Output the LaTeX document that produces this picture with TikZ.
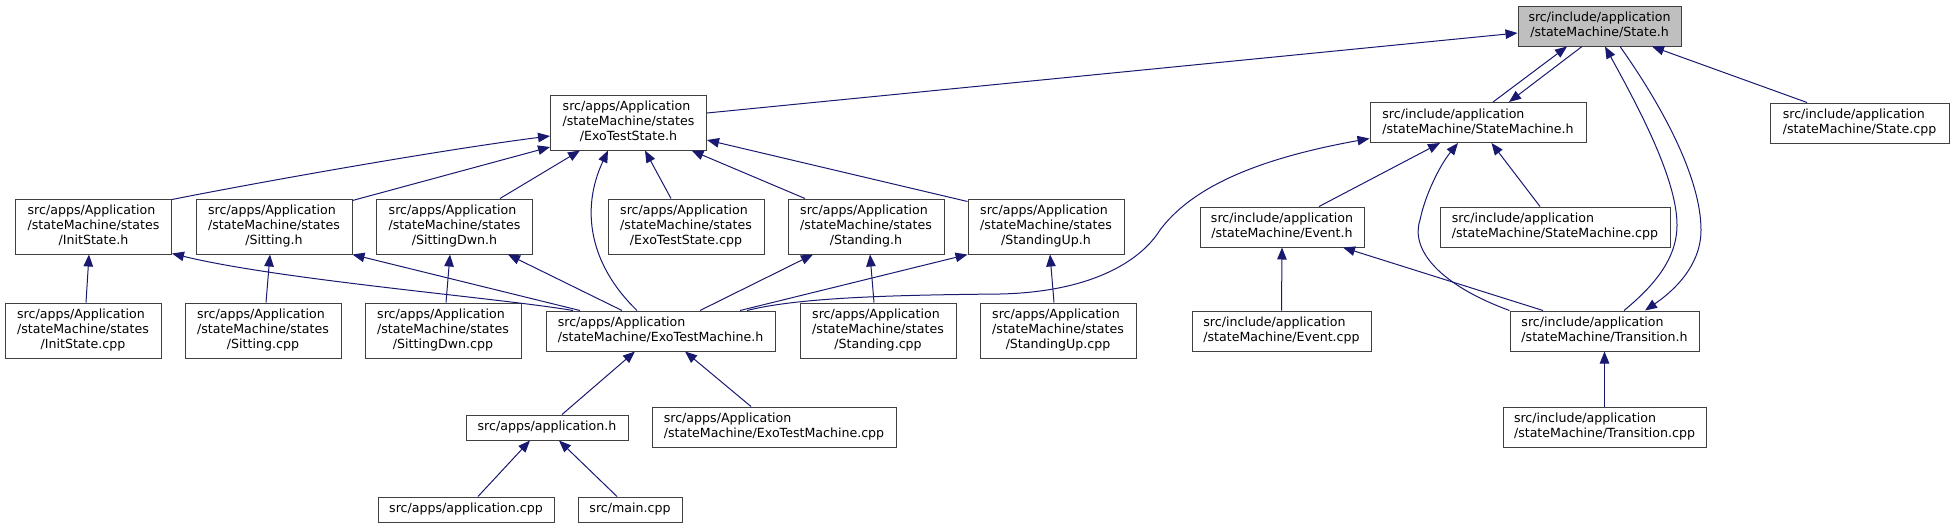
\documentclass[tikz,border=0pt]{standalone}
\usepackage{fontspec}
\usetikzlibrary{arrows.meta,calc}
\newfontfamily\doxfont{DejaVu Sans}
\definecolor{edgeblue}{HTML}{191970}
\definecolor{boxline}{HTML}{404040}
\definecolor{rootfill}{HTML}{BFBFBF}
\newcommand{\twolines}[2]{\begin{tabular}{@{}l@{}}#1\\\multicolumn{1}{@{}c@{}}{#2}\end{tabular}}
\newcommand{\threelines}[3]{\begin{tabular}{@{}l@{}}#1\\#2\\\multicolumn{1}{@{}c@{}}{#3}\end{tabular}}

\begin{document}
\begin{tikzpicture}[x=1pt, y=-1pt,
  font=\doxfont\fontsize{12.6}{15}\selectfont,
  file/.style={draw=boxline, fill=white, line width=1pt, inner xsep=0pt, inner ysep=0pt},
  oneline/.style={file, minimum height=25pt},
  twoline/.style={file, minimum height=40pt},
  threeline/.style={file, minimum height=55pt, minimum width=156pt},
  root/.style={twoline, fill=rootfill},
  dep/.style={draw=edgeblue, line width=1pt, -{Triangle[length=12pt, width=9.5pt]}}
]
\useasboundingbox (0,0) rectangle (1954,528);
\node[root, minimum width=163pt] (stateh) at (1599.5,26) {\twolines{src/include/application}{/stateMachine/State.h}};
\node[twoline, minimum width=179pt] (statecpp) at (1859.5,123) {\twolines{src/include/application}{/stateMachine/State.cpp}};
\node[twoline, minimum width=216pt] (smh) at (1478,122.5) {\twolines{src/include/application}{/stateMachine/StateMachine.h}};
\node[twoline, minimum width=164pt] (evh) at (1282,227) {\twolines{src/include/application}{/stateMachine/Event.h}};
\node[twoline, minimum width=230pt] (smcpp) at (1555,227) {\twolines{src/include/application}{/stateMachine/StateMachine.cpp}};
\node[twoline, minimum width=179pt] (evcpp) at (1281.5,331) {\twolines{src/include/application}{/stateMachine/Event.cpp}};
\node[twoline, minimum width=189pt] (trh) at (1604.5,331) {\twolines{src/include/application}{/stateMachine/Transition.h}};
\node[twoline, minimum width=203pt] (trcpp) at (1604.5,427) {\twolines{src/include/application}{/stateMachine/Transition.cpp}};
\node[threeline] (exoh) at (628.5,122.5) {\threelines{src/apps/Application}{/stateMachine/states}{/ExoTestState.h}};
\node[threeline] (inith) at (93.5,226.5) {\threelines{src/apps/Application}{/stateMachine/states}{/InitState.h}};
\node[threeline] (sith) at (274,226.5) {\threelines{src/apps/Application}{/stateMachine/states}{/Sitting.h}};
\node[threeline] (sitdh) at (454.5,226.5) {\threelines{src/apps/Application}{/stateMachine/states}{/SittingDwn.h}};
\node[threeline] (exocpp) at (686,226.5) {\threelines{src/apps/Application}{/stateMachine/states}{/ExoTestState.cpp}};
\node[threeline] (standh) at (866,226.5) {\threelines{src/apps/Application}{/stateMachine/states}{/Standing.h}};
\node[threeline] (standuph) at (1046,226.5) {\threelines{src/apps/Application}{/stateMachine/states}{/StandingUp.h}};
\node[threeline] (initcpp) at (83,330.5) {\threelines{src/apps/Application}{/stateMachine/states}{/InitState.cpp}};
\node[threeline] (sitcpp) at (263,330.5) {\threelines{src/apps/Application}{/stateMachine/states}{/Sitting.cpp}};
\node[threeline] (sitdcpp) at (443,330.5) {\threelines{src/apps/Application}{/stateMachine/states}{/SittingDwn.cpp}};
\node[threeline] (standcpp) at (878,330.5) {\threelines{src/apps/Application}{/stateMachine/states}{/Standing.cpp}};
\node[threeline] (standupcpp) at (1058,330.5) {\threelines{src/apps/Application}{/stateMachine/states}{/StandingUp.cpp}};
\node[twoline, minimum width=229pt] (machh) at (660.5,331) {\twolines{src/apps/Application}{/stateMachine/ExoTestMachine.h}};
\node[twoline, minimum width=244pt] (machcpp) at (774,427) {\twolines{src/apps/Application}{/stateMachine/ExoTestMachine.cpp}};
\node[oneline, minimum width=162pt] (apph) at (547,427.5) {src/apps/application.h};
\node[oneline, minimum width=176pt] (appcpp) at (466,509.5) {src/apps/application.cpp};
\node[oneline, minimum width=104pt] (maincpp) at (630,509.5) {src/main.cpp};

\draw[dep] ($(exoh.east)+(0,-9.5)$) -- ($(stateh.west)+(0,7)$);
\draw[dep] ($(smh.north)+(15,0)$) -- ($(stateh.south)+(-32.5,0)$);
\draw[dep] ($(stateh.south)+(-17.5,0)$) -- ($(smh.north)+(31,0)$);
\draw[dep] ($(trh.north)+(19.5,0)$) .. controls (1655,285) and (1677,258) .. (1677,225)
  .. controls (1677,180) and (1640,110) .. ($(stateh.south)+(5.5,0)$);
\draw[dep] ($(stateh.south)+(20.5,0)$) .. controls (1665,110) and (1701,180) .. (1701,230)
  .. controls (1701,265) and (1675,290) .. ($(trh.north)+(40.5,0)$);
\draw[dep] ($(statecpp.north)+(-52.5,0)$) -- ($(stateh.south)+(52.5,0)$);
\draw[dep] ($(inith.north east)+(0,1)$) .. controls (260,182) and (440,150) .. ($(exoh.west)+(0,13.5)$);
\draw[dep] ($(sith.north east)+(0,2)$) -- ($(exoh.west)+(0,24.5)$);
\draw[dep] ($(sitdh.north)+(45.5,0)$) -- ($(exoh.south)+(-48.5,0)$);
\draw[dep] ($(machh.north)+(-23.5,0)$) .. controls (590,265) and (580,210) .. ($(exoh.south)+(-20.5,0)$);
\draw[dep] ($(exocpp.north)+(-15,0)$) -- ($(exoh.south)+(16.5,0)$);
\draw[dep] ($(standh.north)+(-61,0)$) -- ($(exoh.south)+(63,0)$);
\draw[dep] ($(standuph.north west)+(0,3)$) -- ($(exoh.east)+(0,17.5)$);
\draw[dep] ($(initcpp.north)+(3,0)$) -- ($(inith.south)+(-4.5,0)$);
\draw[dep] ($(sitcpp.north)+(3,0)$) -- ($(sith.south)+(-4,0)$);
\draw[dep] ($(sitdcpp.north)+(3,0)$) -- ($(sitdh.south)+(-4.5,0)$);
\draw[dep] ($(machh.north)+(-87.5,0)$) .. controls (500,298) and (280,280) .. ($(inith.south east)+(0,-1)$);
\draw[dep] ($(machh.north)+(-80.5,0)$) -- (sith.south east);
\draw[dep] ($(machh.north)+(-38.5,0)$) -- ($(sitdh.south)+(53.5,0)$);
\draw[dep] ($(machh.north)+(39.5,0)$) -- ($(standh.south)+(-53,0)$);
\draw[dep] ($(machh.north)+(79.5,0)$) -- (standuph.south west);
\draw[dep] ($(machh.north)+(86.5,0)$) .. controls (800,297) and (900,295) .. (1000,294)
  .. controls (1090,292) and (1140,262) .. (1160,230)
  .. controls (1190,190) and (1250,160) .. ($(smh.west)+(0,16)$);
\draw[dep] ($(standcpp.north)+(-4,0)$) -- ($(standh.south)+(4,0)$);
\draw[dep] ($(standupcpp.north)+(-4,0)$) -- ($(standuph.south)+(4,0)$);
\draw[dep] ($(apph.north)+(15,0)$) -- ($(machh.south)+(-25.5,0)$);
\draw[dep] ($(machcpp.north)+(-23,0)$) -- ($(machh.south)+(24.5,0)$);
\draw[dep] ($(appcpp.north)+(12,0)$) -- ($(apph.south)+(-17,0)$);
\draw[dep] ($(maincpp.north)+(-13,0)$) -- ($(apph.south)+(12,0)$);
\draw[dep] ($(evh.north)+(37,0)$) -- ($(smh.south)+(-38,0)$);
\draw[dep] ($(smcpp.north)+(-15,0)$) -- ($(smh.south)+(13.5,0)$);
\draw[dep] (trh.north west) .. controls (1440,285) and (1410,250) .. (1420,220)
  .. controls (1425,195) and (1440,165) .. ($(smh.south)+(-20,0)$);
\draw[dep] ($(trh.north)+(-61.5,0)$) -- ($(evh.south)+(61,0)$);
\draw[dep] (evcpp.north) -- (evh.south);
\draw[dep] (trcpp.north) -- (trh.south);
\end{tikzpicture}
\end{document}
